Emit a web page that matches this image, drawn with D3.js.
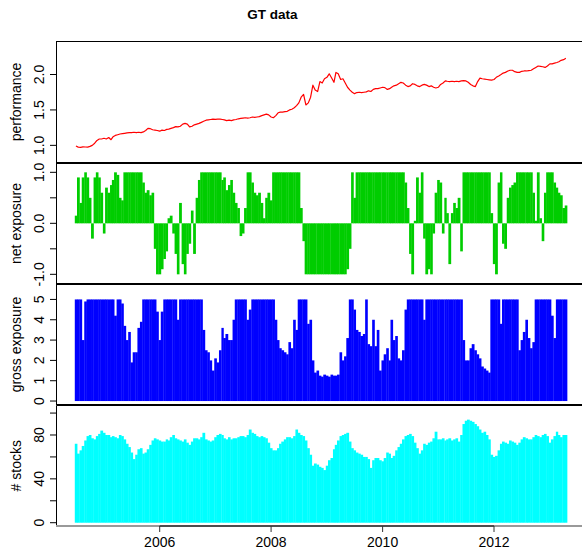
<!DOCTYPE html>
<html>
<head>
<meta charset="utf-8">
<script src="https://cdn.jsdelivr.net/npm/d3@7"></script>
<style>
  body { margin: 0; background: #fff; }
  svg { display: block; }
  text { font-family: "Liberation Sans", Arial, Helvetica, sans-serif; fill: #000; }
</style>
</head>
<body>
<svg id="chart" width="582" height="549"></svg>
<script>
// Semi-monthly observations, July 2004 - April 2013
const performance = [
  0.99,0.975,0.972,0.978,0.977,0.976,0.985,1.0,1.03,1.07,
  1.09,1.09,1.10,1.09,1.11,1.08,1.12,1.14,1.15,1.16,
  1.165,1.17,1.175,1.18,1.18,1.185,1.18,1.185,1.18,1.19,
  1.21,1.24,1.235,1.22,1.215,1.21,1.20,1.215,1.21,1.225,
  1.23,1.24,1.25,1.265,1.26,1.27,1.30,1.31,1.30,1.26,
  1.27,1.29,1.30,1.31,1.325,1.34,1.355,1.36,1.365,1.37,
  1.368,1.37,1.37,1.365,1.36,1.35,1.355,1.35,1.36,1.365,
  1.375,1.38,1.385,1.39,1.385,1.39,1.40,1.395,1.40,1.405,
  1.42,1.43,1.44,1.43,1.40,1.39,1.42,1.46,1.47,1.47,
  1.475,1.48,1.50,1.51,1.53,1.56,1.60,1.68,1.72,1.57,
  1.60,1.68,1.85,1.78,1.76,1.90,1.88,1.94,1.96,2.01,
  1.95,1.89,2.03,2.01,1.93,1.94,1.88,1.82,1.78,1.75,
  1.73,1.745,1.75,1.745,1.75,1.755,1.77,1.76,1.79,1.80,
  1.80,1.81,1.82,1.815,1.79,1.80,1.82,1.84,1.85,1.87,
  1.89,1.88,1.85,1.83,1.84,1.87,1.86,1.84,1.83,1.85,
  1.86,1.85,1.83,1.84,1.82,1.81,1.82,1.86,1.88,1.91,
  1.905,1.90,1.905,1.90,1.905,1.90,1.91,1.915,1.91,1.89,
  1.86,1.84,1.83,1.90,1.95,1.94,1.935,1.93,1.925,1.92,
  1.93,1.96,1.98,2.00,2.02,2.03,2.05,2.06,2.06,2.04,
  2.03,2.03,2.045,2.05,2.05,2.055,2.06,2.08,2.10,2.12,
  2.115,2.11,2.10,2.12,2.15,2.15,2.16,2.17,2.18,2.20,
  2.21,2.23
];

const netExposure = [
  0.15,0.9,0.4,0.9,1.0,0.9,0.5,-0.3,0.9,1.0,
  0.9,0.6,-0.2,0.7,0.6,0.75,0.85,1.0,0.95,0.5,
  0.45,1.0,1.0,1.0,1.0,1.0,1.0,1.0,1.0,0.8,
  0.6,0.65,0.55,0.6,-0.5,-1.0,-1.0,-0.9,-0.7,-0.55,
  0.1,0.15,-0.2,-0.6,-1.0,0.4,-0.8,-1.0,-0.6,-0.4,
  0.25,-0.6,0.5,0.85,1.0,1.0,1.0,1.0,1.0,1.0,
  1.0,1.0,1.0,0.85,0.9,0.65,0.75,0.85,0.6,0.4,
  0.3,-0.25,-0.2,0.3,1.0,1.0,0.8,0.6,0.55,0.6,
  0.4,0.1,0.5,0.6,0.45,1.0,1.0,1.0,1.0,1.0,
  1.0,1.0,1.0,1.0,1.0,1.0,1.0,0.3,-0.35,-1.0,
  -1.0,-1.0,-1.0,-1.0,-1.0,-1.0,-1.0,-1.0,-1.0,-1.0,
  -1.0,-1.0,-1.0,-1.0,-1.0,-1.0,-1.0,-0.9,-0.5,1.0,
  0.5,1.0,1.0,1.0,1.0,1.0,1.0,1.0,1.0,1.0,
  1.0,1.0,1.0,1.0,1.0,1.0,1.0,1.0,1.0,1.0,
  1.0,1.0,0.8,0.3,-0.6,-1.0,0.05,0.9,0.6,1.0,
  -0.3,-1.0,-0.9,-1.0,-0.2,0.6,0.85,0.8,-0.2,0.5,
  0.2,-0.8,0.2,0.4,0.3,0.5,-0.55,1.0,1.0,1.0,
  1.0,1.0,1.0,1.0,1.0,1.0,1.0,1.0,1.0,0.2,
  -0.8,-1.0,0.8,1.0,-0.4,-0.5,0.5,0.7,0.75,0.8,
  1.0,1.0,1.0,1.0,1.0,1.0,1.0,0.6,0.05,1.0,
  0.1,-0.35,0.6,1.0,1.0,1.0,0.8,0.7,0.6,0.55,
  0.3,0.35
];

const grossExposure = [
  5,5,5,3.0,4.9,5,5,5,5,5,
  5,5,5,5,5,5,5,4.2,5,5,
  4.8,3.7,3.0,3.4,1.9,2.4,2.4,3.6,3.9,5,
  5,5,5,5,5,4.4,3.0,4.4,5,5,
  5,5,5,5,4.0,5,5,5,5,5,
  5,5,5,5,5,3.5,2.5,2.4,2.0,1.5,
  2.1,1.9,2.5,3.6,3.1,3.3,3.0,3.0,4.0,5,
  5,5,5,5,4.0,4.5,5,5,5,5,
  5,5,5,5,5,5,4.0,3.0,2.6,2.5,
  2.4,2.3,2.9,2.6,4.0,3.5,5,5,5,5,
  3.8,4.0,2.0,1.4,1.5,1.25,1.2,1.3,1.25,1.2,
  1.3,1.25,1.25,1.3,2.4,2.0,2.2,3.1,5,5,
  4.5,3.5,3.4,3.2,3.3,5,2.8,2.7,4.0,2.7,
  3.5,1.5,2.0,2.3,2.6,2.0,4.0,3.0,3.2,2.1,
  2.0,2.5,4.5,5,5,5,5,5,5,5,
  4.0,5,5,5,5,5,5,5,5,5,
  5,5,5,5,5,5,5,3.0,2.0,2.0,
  2.6,2.8,2.5,2.3,2.1,1.7,1.6,1.5,1.4,5,
  5,5,5,3.8,5,5,5,5,5,5,
  5,2.5,3.0,3.4,4.0,3.1,2.6,2.9,5,5,
  5,5,5,5,5,4.2,3.1,5,5,5,
  5,5
];

const numStocks = [
  72,63,66,70,75,79,80,77,76,79,
  81,84,82,80,80,78,79,78,77,80,
  79,76,72,69,64,58,62,67,68,63,
  64,67,71,75,77,76,75,74,74,76,
  75,78,80,77,76,75,74,76,73,71,
  74,77,77,76,78,82,76,75,74,75,
  78,80,81,80,77,76,78,76,77,77,
  78,79,79,78,80,85,82,81,79,78,
  79,78,77,73,68,66,66,68,72,74,
  76,78,78,77,79,85,82,80,79,75,
  68,62,52,54,53,51,50,48,52,57,
  59,67,71,75,79,80,81,82,74,68,
  66,64,63,62,60,60,58,50,57,59,
  59,57,56,59,64,63,59,61,66,69,
  72,76,79,80,81,79,73,68,63,66,
  72,71,73,74,77,83,76,76,77,75,
  76,77,75,76,77,74,80,90,93,94,
  93,92,90,88,85,82,83,80,76,62,
  60,61,66,72,74,73,72,75,74,73,
  71,73,76,78,77,76,76,78,80,79,
  78,80,81,79,73,76,79,83,80,78,
  80,80
];

const yearTicks = [2006, 2008, 2010, 2012];
const chartTitle = "GT data";

// Observation dates: the 1st and the 16th of every month
const dates = d3.timeMonth.range(new Date(2004, 6, 1), new Date(2013, 4, 1))
  .flatMap(m => [m, new Date(m.getFullYear(), m.getMonth(), 16)]);

const svg = d3.select("#chart");
const frameLeft = 56.5, frameRight = 700;

const x = d3.scaleTime()
  .domain([new Date(2006, 0, 1), new Date(2012, 0, 1)])
  .range([159.7, 494]);

const fmt1 = v => v.toFixed(1);
const fmt0 = v => String(v);

const panels = [
  { title: "performance", values: performance, kind: "line", color: "#ff0000",
    top: 41.5, bottom: 162.5, domain: [0.758, 2.466],
    ticks: [1, 1.5, 2], labels: [1, 1.5, 2], fmt: fmt1 },
  { title: "net exposure", values: netExposure, kind: "bar", color: "#00cd00",
    top: 163.5, bottom: 283.5, domain: [-1.18, 1.173],
    ticks: [-1, -0.5, 0, 0.5, 1], labels: [-1, 0, 1], fmt: fmt1 },
  { title: "gross exposure", values: grossExposure, kind: "bar", color: "#0000ff",
    top: 284.5, bottom: 404.5, domain: [-0.17, 5.735],
    ticks: [0, 1, 2, 3, 4, 5], labels: [0, 1, 2, 3, 4, 5], fmt: fmt0 },
  { title: "# stocks", values: numStocks, kind: "bar", color: "#00ffff",
    top: 405.5, bottom: 526, domain: [-3, 106.9],
    ticks: [0, 20, 40, 60, 80, 100], labels: [0, 40, 80], fmt: fmt0, last: true }
];

// Title
svg.append("text")
  .attr("x", 272.5).attr("y", 18.5)
  .attr("text-anchor", "middle")
  .style("font-weight", "bold")
  .style("font-size", "13.5px")
  .text(chartTitle);

panels.forEach(p => {
  const y = d3.scaleLinear().domain(p.domain).range([p.bottom, p.top]);
  const g = svg.append("g");
  const series = dates.map((d, i) => ({ date: d, value: p.values[i] }));

  if (p.kind === "line") {
    g.append("path")
      .datum(series)
      .attr("fill", "none")
      .attr("stroke", p.color)
      .attr("stroke-width", 1.2)
      .attr("stroke-linejoin", "round")
      .attr("d", d3.line().x(d => x(d.date)).y(d => y(d.value)));
  } else {
    const y0 = y(0);
    g.selectAll("rect")
      .data(series)
      .join("rect")
      .attr("x", (d, i) => {
        const next = i < dates.length - 1 ? x(dates[i + 1]) : x(d.date) + (x(d.date) - x(dates[i - 1]));
        const w = next - x(d.date);
        return x(d.date) - w / 2;
      })
      .attr("width", (d, i) => {
        const next = i < dates.length - 1 ? x(dates[i + 1]) : x(d.date) + (x(d.date) - x(dates[i - 1]));
        return next - x(d.date) + 0.35;
      })
      .attr("y", d => Math.min(y0, y(d.value)))
      .attr("height", d => Math.abs(y(d.value) - y0))
      .attr("fill", p.color);
  }

  // Frame
  if (p.last) {
    g.append("path")
      .attr("d", `M${frameRight},${p.top}H${frameLeft}V${p.bottom}`)
      .attr("fill", "none").attr("stroke", "#000").attr("stroke-width", 1);
  } else {
    g.append("rect")
      .attr("x", frameLeft).attr("y", p.top)
      .attr("width", frameRight - frameLeft).attr("height", p.bottom - p.top)
      .attr("fill", "none").attr("stroke", "#000").attr("stroke-width", 1);
  }

  // Y axis ticks and labels
  g.selectAll("line.tick")
    .data(p.ticks)
    .join("line")
    .attr("class", "tick")
    .attr("x1", 50).attr("x2", frameLeft)
    .attr("y1", d => y(d)).attr("y2", d => y(d))
    .attr("stroke", "#000").attr("stroke-width", 1);

  g.selectAll("text.tlabel")
    .data(p.labels)
    .join("text")
    .attr("class", "tlabel")
    .attr("transform", d => `translate(44,${y(d)}) rotate(-90)`)
    .attr("text-anchor", "middle")
    .style("font-size", "14px")
    .text(d => p.fmt(d));

  // Axis title
  g.append("text")
    .attr("transform", `translate(20.5,${(p.top + p.bottom) / 2}) rotate(-90)`)
    .attr("text-anchor", "middle")
    .style("font-size", "14px")
    .text(p.title);
});

// Bottom x axis
const xAxisY = 526;
svg.append("line")
  .attr("x1", frameLeft - 0.5).attr("x2", 582)
  .attr("y1", xAxisY).attr("y2", xAxisY)
  .attr("stroke", "#999").attr("stroke-width", 2);

const yearDates = yearTicks.map(yr => new Date(yr, 0, 1));
svg.append("line")
  .attr("x1", x(yearDates[0])).attr("x2", x(yearDates[yearDates.length - 1]))
  .attr("y1", xAxisY).attr("y2", xAxisY)
  .attr("stroke", "#4d4d4d").attr("stroke-width", 2);

svg.selectAll("line.xtick")
  .data(yearDates)
  .join("line")
  .attr("class", "xtick")
  .attr("x1", d => x(d)).attr("x2", d => x(d))
  .attr("y1", xAxisY).attr("y2", 532)
  .attr("stroke", "#333").attr("stroke-width", 1);

svg.selectAll("text.xlabel")
  .data(yearDates)
  .join("text")
  .attr("class", "xlabel")
  .attr("x", d => x(d)).attr("y", 547)
  .attr("text-anchor", "middle")
  .style("font-size", "14px")
  .text(d => d3.timeFormat("%Y")(d));
</script>
</body>
</html>
